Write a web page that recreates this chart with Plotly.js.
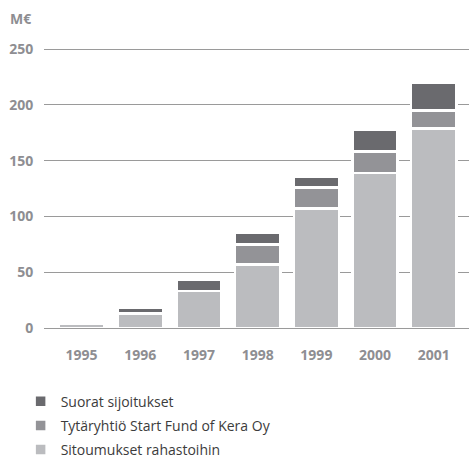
<!DOCTYPE html>
<html>
<head>
<meta charset="utf-8">
<script src="https://cdn.plot.ly/plotly-3.0.1.min.js"></script>
<style>
  html, body { margin: 0; padding: 0; background: #fff; }
  #plot { width: 469px; height: 456px; }
</style>
</head>
<body>
<div id="plot"></div>
<script>
const years = ["1995", "1996", "1997", "1998", "1999", "2000", "2001"];
const sitoumukset = [4, 13, 33, 57, 107, 139, 179];
const tytaryhtio = [0, 0, 0, 18, 19, 19.5, 16];
const suorat = [0, 5.5, 10.5, 10.5, 10, 19.5, 24.5];

const gray = "#8e8e92";
const outline = { color: "#ffffff", width: 2.5 };

const traces = [
  { name: "Sitoumukset rahastoihin", y: sitoumukset, color: "#bbbcbf", rank: 3 },
  { name: "Tytäryhtiö Start Fund of Kera Oy", y: tytaryhtio, color: "#939397", rank: 2 },
  { name: "Suorat sijoitukset", y: suorat, color: "#6a6a6e", rank: 1 }
].map((t, i) => ({
  type: "bar",
  x: years,
  y: t.y,
  name: t.name,
  legendgroup: "g" + i,
  legendrank: t.rank,
  marker: { color: t.color, line: outline },
  hoverinfo: "skip"
}));

const layout = {
  width: 469,
  height: 456,
  margin: { l: 44, r: 0, t: 47, b: 128, autoexpand: false },
  paper_bgcolor: "#fff",
  plot_bgcolor: "#fff",
  barmode: "stack",
  bargap: 0.23,
  font: { family: "Open Sans, sans-serif", color: gray },
  xaxis: {
    type: "category",
    range: [-0.64, 6.6],
    tickangle: 0,
    showgrid: false,
    zeroline: false,
    showline: false,
    ticks: "outside",
    ticklen: 14,
    tickcolor: "rgba(0,0,0,0)",
    tickfont: { size: 14, color: gray, weight: "bold" }
  },
  yaxis: {
    range: [0, 252],
    tickvals: [0, 50, 100, 150, 200, 250],
    showgrid: true,
    gridcolor: "#9a9a9a",
    gridwidth: 1,
    zeroline: true,
    zerolinecolor: "#9a9a9a",
    zerolinewidth: 1,
    showline: false,
    ticks: "outside",
    ticklen: 7,
    tickcolor: "rgba(0,0,0,0)",
    tickfont: { size: 14, color: gray, weight: "bold" }
  },
  showlegend: true,
  legend: {
    x: -0.055,
    y: -0.205,
    xanchor: "left",
    yanchor: "top",
    orientation: "v",
    traceorder: "grouped",
    tracegroupgap: 3,
    font: { size: 14, color: "#3c3c3c" },
    itemclick: false
  },
  annotations: [{
    xref: "paper",
    yref: "paper",
    x: 0,
    y: (281 + 29) / 281,
    xshift: -36,
    xanchor: "left",
    yanchor: "middle",
    text: "M€",
    showarrow: false,
    font: { size: 14, color: gray, weight: "bold" }
  }]
};

Plotly.newPlot("plot", traces, layout, { displayModeBar: false, staticPlot: true });
</script>
</body>
</html>
